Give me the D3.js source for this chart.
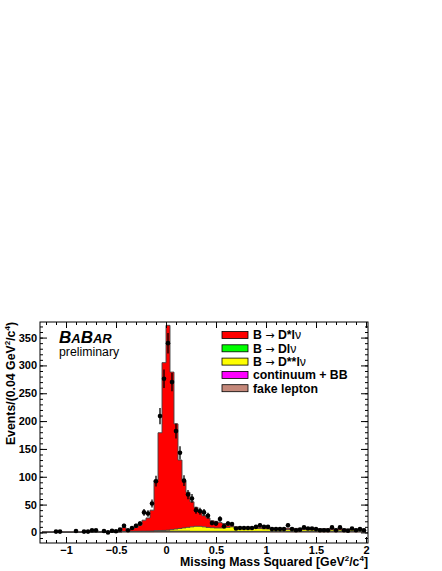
<!DOCTYPE html>
<html>
<head>
<meta charset="utf-8">
<script src="https://cdn.jsdelivr.net/npm/d3@7"></script>
<style>
body { margin: 0; background: #fff; }
text { font-family: "Liberation Sans", Arial, Helvetica, sans-serif; }
</style>
</head>
<body>
<svg id="chart" width="442" height="571"></svg>
<script>
// missing mass squared, bins of 0.04 GeV^2/c^4 from -1.24 to 2.00
const binWidth = 0.04
const firstEdge = -1.24

// data points (null = no marker drawn)
const dataCounts = [
  null, null, null, 1.5, 1.5, null, null, null, 2.5, null,
  1.5, 1.5, 4, 4, null, 2.5, 0, 3, 2, 5,
  12, 4, 8, 12, 16, 36, 34, 52, 92, 209,
  276, 340, 270, 182, 143, 93, 68, 61, 40, 38,
  36, 30, 17, 16, 24, 11, 16, 15, 7, 8,
  8, 8, 8, 10, 13, 10, 10, 6, 6, 6,
  6, 13, 6, 4, 5, 9, 7, 7, 6, 4,
  4, 4, 9, 4, 9, 4, 3, 7, 4, 6, 4
]

// MC components, stacked bottom -> top
const fakeLepton = [
  0.3, 0.3, 0.3, 0.3, 0.3, 0.3, 0.3, 0.3, 0.3, 0.3,
  0.3, 0.3, 0.3, 0.6, 0.6, 0.6, 0.6, 0.6, 0.6, 0.6,
  1, 1, 1, 1, 1, 1, 1, 1, 1, 1,
  1, 1, 1, 1, 1, 1, 1, 1, 1, 1,
  1, 1, 1, 1, 1, 1, 1, 1, 1, 1,
  1, 1, 1, 1, 1, 1, 1, 1, 1, 1,
  1, 1, 1, 1, 1, 1, 1, 1, 1, 1,
  1, 1, 1, 1, 1, 1, 1, 1, 1, 1, 1
]
const continuum = [
  0.1, 0.1, 0.1, 0.1, 0.1, 0.1, 0.1, 0.1, 0.1, 0.1,
  0.1, 0.1, 0.1, 0.1, 0.1, 0.1, 0.1, 0.1, 0.1, 0.3,
  0.3, 0.3, 0.3, 0.3, 0.3, 0.3, 0.3, 0.3, 0.3, 0.3,
  0.3, 0.3, 0.3, 0.3, 0.3, 0.3, 0.3, 0.3, 0.3, 0.3,
  0.3, 0.3, 0.3, 0.3, 0.3, 0.3, 0.3, 0.3, 0.3, 0.3,
  0.3, 0.3, 0.3, 0.3, 0.3, 0.3, 0.3, 0.3, 0.3, 0.3,
  0.3, 0.3, 0.3, 0.3, 0.3, 0.3, 0.3, 0.3, 0.3, 0.3,
  0.3, 0.3, 0.3, 0.3, 0.3, 0.3, 0.3, 0.3, 0.3, 0.3, 0.3
]
const dLnu = [
  0, 0, 0, 0, 0, 0, 0, 0, 0, 0,
  0, 0, 0, 0, 0, 0, 0, 0, 0, 0.3,
  0.3, 0.3, 0.3, 0.3, 0.3, 0.3, 0.3, 0.3, 1, 1,
  1, 1, 1, 1, 1, 1, 1, 0.6, 0.6, 0.6,
  0.6, 0.6, 0.6, 0.6, 0.6, 0.6, 0.6, 0.6, 0.6, 0.6,
  0.6, 0.6, 0.6, 0.6, 0.6, 0.6, 0.6, 0.6, 0.6, 0.6,
  0.6, 0.6, 0.6, 0.6, 0.6, 0.6, 0.6, 0.6, 0.6, 0.6,
  0.6, 0.6, 0.6, 0.6, 0.6, 0.6, 0.6, 0.6, 0.6, 0.6, 0.6
]
const dssLnu = [
  0, 0, 0, 0, 0, 0, 0, 0, 0, 0,
  0, 0, 0, 0, 0, 0, 0, 0, 0, 0.2,
  0.2, 0.3, 0.3, 0.4, 0.5, 0.6, 0.7, 0.8, 0.7, 1.0,
  1.3, 1.8, 2.8, 3.8, 4.8, 5.8, 6.8, 8.1, 9.1, 9.1,
  8.1, 7.1, 6.6, 6.1, 6.1, 6.1, 7.1, 8.1, 6.1, 5.1,
  5.0, 4.8, 5.2, 5.4, 5.0, 4.6, 4.4, 3.4, 3.2, 3.1,
  3.0, 3.2, 3.3, 3.0, 2.9, 3.1, 3.0, 2.8, 2.9, 2.7,
  2.8, 2.6, 2.7, 2.6, 2.5, 2.6, 2.4, 2.5, 2.4, 2.3, 2.3
]
const dstarLnu = [
  0.6, 0.6, 0.6, 0.6, 0.6, 0.6, 0.6, 0.6, 0.6, 0.6,
  0.6, 0.6, 0.6, 0.8, 0.8, 0.8, 0.8, 0.8, 0.8, 1.6,
  7.2, 2.1, 4.1, 7.0, 10.9, 19.8, 23.7, 37.6, 91, 175.7,
  301.4, 367.9, 282.9, 188.9, 122.9, 84.9, 62.9, 45, 34, 29,
  20, 17, 12.5, 12, 10, 8, 4, 2, 2, 2.5,
  2.5, 2.4, 2.2, 2.4, 2.6, 2.5, 2.4, 2.6, 2.4, 2.5,
  2.3, 2.4, 2.2, 2.3, 2.4, 2.1, 2.2, 2.3, 2.0, 2.2,
  2.1, 2.0, 2.1, 1.9, 2.0, 1.9, 2.0, 1.8, 1.9, 1.8, 1.8
]

const components = ['fake', 'cont', 'dlnu', 'dss', 'dstar']
const compColors = {fake: '#c4887a', cont: '#ff00ff', dlnu: '#00ff00', dss: '#ffff00', dstar: '#ff0000'}

// legend, top to bottom
const legendKeys = ['dstar', 'dlnu', 'dss', 'cont', 'fake']
const legendLabels = {
  dstar: ['B ', '\u2192', ' D*l', '\u03bd'],
  dlnu: ['B ', '\u2192', ' Dl', '\u03bd'],
  dss: ['B ', '\u2192', ' D**l', '\u03bd'],
  cont: ['continuum + BB'],
  fake: ['fake lepton']
}

const xMajor = [-1, -0.5, 0, 0.5, 1, 1.5, 2]
const xMinor = d3.range(-12, 21).map(d => d / 10)
const yMajor = [0, 50, 100, 150, 200, 250, 300, 350]
const yMinor = d3.range(-1, 38).map(d => d * 10)

const svg = d3.select('#chart')
const frame = {left: 40, right: 368, top: 322, bottom: 543}

const x = d3.scaleLinear().domain([-1.26, 2.02]).range([frame.left, frame.right])
const y = d3.scaleLinear().domain([-19, 378]).range([frame.bottom, frame.top])

// build the table of bins
const bins = dataCounts.map((n, i) => ({
  lo: +(firstEdge + i * binWidth).toFixed(2),
  hi: +(firstEdge + (i + 1) * binWidth).toFixed(2),
  n: n,
  fake: fakeLepton[i], cont: continuum[i], dlnu: dLnu[i], dss: dssLnu[i], dstar: dstarLnu[i]
}))

const stacked = d3.stack().keys(components)(bins)

svg.append('defs').append('clipPath').attr('id', 'clip')
  .append('rect')
  .attr('x', frame.left).attr('y', frame.top)
  .attr('width', frame.right - frame.left).attr('height', frame.bottom - frame.top)

const plot = svg.append('g').attr('clip-path', 'url(#clip)')

// step points: each bin's low edge plus the last high edge
const stepPts = s => {
  const pts = s.map((d, i) => ({xv: bins[i].lo, y0: d[0], y1: d[1]}))
  const last = s[s.length - 1]
  pts.push({xv: bins[bins.length - 1].hi, y0: last[0], y1: last[1]})
  return pts
}

const area = d3.area().curve(d3.curveStepAfter)
  .x(d => x(d.xv)).y0(d => y(d.y0)).y1(d => y(d.y1))
const topLine = d3.line().curve(d3.curveStepAfter)
  .x(d => x(d.xv)).y(d => y(d.y1))

stacked.forEach(s => {
  plot.append('path')
    .attr('d', area(stepPts(s)))
    .attr('fill', compColors[s.key])
    .attr('stroke', 'none')
})
stacked.forEach(s => {
  plot.append('path')
    .attr('d', topLine(stepPts(s)))
    .attr('fill', 'none')
    .attr('stroke', '#444')
    .attr('stroke-width', 0.9)
})

// zero line at the left end where the MC is empty
plot.append('line')
  .attr('x1', x(bins[0].lo)).attr('x2', x(bins[0].lo))
  .attr('y1', y(0)).attr('y2', y(stacked[4][0][1]))
  .attr('stroke', '#444').attr('stroke-width', 0.9)

// data points with poisson errors
const pts = bins.filter(d => d.n !== null)
plot.selectAll('.err')
  .data(pts)
  .join('line')
  .attr('class', 'err')
  .attr('x1', d => x((d.lo + d.hi) / 2))
  .attr('x2', d => x((d.lo + d.hi) / 2))
  .attr('y1', d => y(d.n - Math.sqrt(d.n)))
  .attr('y2', d => y(d.n + Math.sqrt(d.n)))
  .attr('stroke', '#000')
  .attr('stroke-width', 1.3)
plot.selectAll('.pt')
  .data(pts)
  .join('circle')
  .attr('class', 'pt')
  .attr('cx', d => x((d.lo + d.hi) / 2))
  .attr('cy', d => y(d.n))
  .attr('r', 2.3)
  .attr('fill', '#000')

// axes, ticks inside on all four sides
const fmtX = d => d3.format('~g')(d)
const styleAxis = g => {
  g.select('.domain').remove()
  g.selectAll('line').attr('stroke', '#000')
  g.selectAll('text').attr('font-weight', 'bold').attr('font-size', 11)
    .attr('font-family', '"Liberation Sans", Arial, sans-serif').attr('fill', '#000')
}

svg.append('g').attr('transform', `translate(0,${frame.bottom})`)
  .call(d3.axisBottom(x).tickValues(xMinor).tickSize(-3).tickFormat(''))
  .call(styleAxis)
svg.append('g').attr('transform', `translate(0,${frame.bottom})`)
  .call(d3.axisBottom(x).tickValues(xMajor).tickSize(-6).tickPadding(3).tickFormat(fmtX))
  .call(styleAxis)
svg.append('g').attr('transform', `translate(0,${frame.top})`)
  .call(d3.axisTop(x).tickValues(xMinor).tickSize(-3).tickFormat(''))
  .call(styleAxis)
svg.append('g').attr('transform', `translate(0,${frame.top})`)
  .call(d3.axisTop(x).tickValues(xMajor).tickSize(-6).tickFormat(''))
  .call(styleAxis)

svg.append('g').attr('transform', `translate(${frame.left},0)`)
  .call(d3.axisLeft(y).tickValues(yMinor).tickSize(-3).tickFormat(''))
  .call(styleAxis)
svg.append('g').attr('transform', `translate(${frame.left},0)`)
  .call(d3.axisLeft(y).tickValues(yMajor).tickSize(-7).tickPadding(3))
  .call(styleAxis)
svg.append('g').attr('transform', `translate(${frame.right},0)`)
  .call(d3.axisRight(y).tickValues(yMinor).tickSize(-3).tickFormat(''))
  .call(styleAxis)
svg.append('g').attr('transform', `translate(${frame.right},0)`)
  .call(d3.axisRight(y).tickValues(yMajor).tickSize(-7).tickFormat(''))
  .call(styleAxis)

svg.append('rect')
  .attr('x', frame.left).attr('y', frame.top)
  .attr('width', frame.right - frame.left).attr('height', frame.bottom - frame.top)
  .attr('fill', 'none').attr('stroke', '#000').attr('stroke-width', 1)

// axis titles
const xt = svg.append('text')
  .attr('x', frame.right).attr('y', 566)
  .attr('text-anchor', 'end')
  .attr('font-weight', 'bold').attr('font-size', 12.3)
xt.append('tspan').text('Missing Mass Squared [GeV')
xt.append('tspan').attr('font-size', 8).attr('dy', -5).text('2')
xt.append('tspan').attr('dy', 5).text('/c')
xt.append('tspan').attr('font-size', 8).attr('dy', -5).text('4')
xt.append('tspan').attr('dy', 5).text(']')

const yt = svg.append('text')
  .attr('transform', `translate(15,${frame.top}) rotate(-90)`)
  .attr('text-anchor', 'end')
  .attr('font-weight', 'bold').attr('font-size', 12.3)
yt.append('tspan').text('Events/(0.04 GeV')
yt.append('tspan').attr('font-size', 8).attr('dy', -5).text('2')
yt.append('tspan').attr('dy', 5).text('/c')
yt.append('tspan').attr('font-size', 8).attr('dy', -5).text('4')
yt.append('tspan').attr('dy', 5).text(')')

// BaBar logo
const logo = svg.append('text')
  .attr('x', 59).attr('y', 342.5)
  .attr('font-family', '"Liberation Serif", "Times New Roman", serif')
  .attr('font-style', 'italic').attr('font-weight', 'bold')
logo.append('tspan').attr('font-size', 17).text('B')
logo.append('tspan').attr('font-size', 13).text('A')
logo.append('tspan').attr('font-size', 17).text('B')
logo.append('tspan').attr('font-size', 13).text('AR')
svg.append('text')
  .attr('x', 59).attr('y', 356)
  .attr('font-size', 12.3)
  .text('preliminary')

// legend
const leg = svg.append('g')
legendKeys.forEach((k, i) => {
  const cy = 335 + i * 13.3
  leg.append('rect')
    .attr('x', 222).attr('y', cy - 3.5)
    .attr('width', 26).attr('height', 7)
    .attr('fill', compColors[k])
    .attr('stroke', '#000').attr('stroke-width', 0.8)
  const t = leg.append('text')
    .attr('x', 253).attr('y', cy + 4.3)
    .attr('font-weight', 'bold').attr('font-size', 12.3)
  legendLabels[k].forEach(part => {
    const sp = t.append('tspan').text(part)
    if (part === '\u2192') sp.attr('font-weight', 'normal').attr('font-family', '"DejaVu Sans", sans-serif').attr('font-size', 11)
    if (part === '\u03bd') sp.attr('font-weight', 'normal')
  })
})
</script>
</body>
</html>
